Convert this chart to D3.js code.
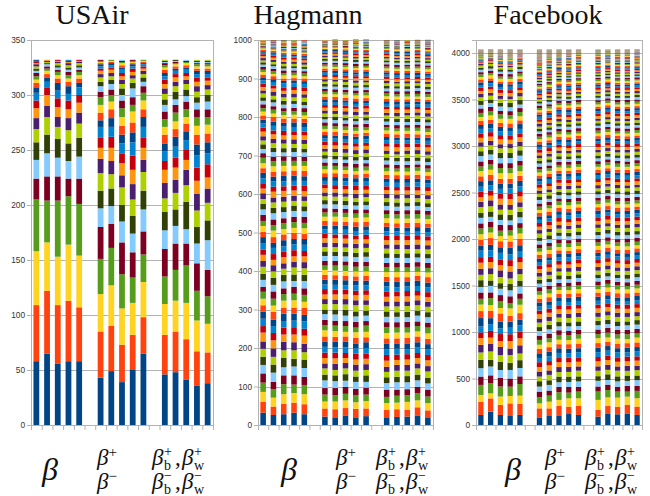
<!DOCTYPE html>
<html>
<head>
<meta charset="utf-8">
<script src="https://cdn.jsdelivr.net/npm/d3@7"></script>
<style>
  body { margin: 0; background: #fff; }
  svg { display: block; }
</style>
</head>
<body>
<div id="chart"></div>
<script>
// LibreOffice default chart palette, cycled bottom-up through the segments
const palette = ["#004586", "#ff420e", "#ffd320", "#579d1c", "#7e0021", "#83caff",
  "#314004", "#aecf00", "#4b1f6f", "#ff950e", "#c5000b", "#0084d1"];

// 17 slots on the x axis: 5 bars, gap, 5 bars, gap, 5 bars
const slotCount = 17;
const barSlots = [0, 1, 2, 3, 4, 6, 7, 8, 9, 10, 12, 13, 14, 15, 16];

// ---- USAir (332 nodes): community sizes per run, bottom to top
const usairBars = [
  [58,51,49,47,19,17,16,12,10,9,7,7,5,4,3,3,3,2,2,2,2,1,1,1,1],
  [65,57,44,38,22,21,17,16,10,10,7,5,4,3,3,2,2,2,1,1,1,1],
  [56,53,44,51,22,17,17,11,9,9,8,7,7,4,3,3,2,2,2,2,1,1,1],
  [58,55,51,44,16,16,16,12,11,8,8,6,7,4,3,3,3,2,2,2,2,1,1,1],
  [58,49,47,47,23,20,17,13,10,9,7,7,4,4,3,3,2,2,2,2,1,1,1],
  [43,42,34,32,29,17,16,16,13,10,9,10,6,7,7,7,5,5,4,4,3,3,2,2,2,1,1,1,1],
  [49,41,37,34,22,16,16,13,12,12,10,9,8,8,7,6,5,5,4,3,3,3,2,2,2,1,1,1],
  [39,34,33,31,29,19,15,16,11,11,9,9,8,8,8,8,7,5,6,4,4,3,3,3,2,2,2,1,1,1],
  [50,32,29,23,23,17,16,15,14,13,13,12,9,9,10,6,7,8,5,4,3,3,3,2,2,1,1,1,1],
  [65,33,32,25,21,20,17,17,11,11,9,10,9,7,8,7,6,4,4,3,3,2,2,2,1,1,1,1],
  [46,36,28,25,25,17,17,12,14,12,8,9,7,8,7,7,7,6,5,5,5,4,4,3,3,3,2,2,2,1,1,1],
  [48,37,28,28,24,16,15,15,12,11,9,10,9,7,7,8,7,5,7,5,4,4,3,3,2,2,2,1,1,1,1],
  [41,37,33,34,20,13,25,15,14,9,9,9,8,7,6,7,7,5,6,5,4,3,3,3,2,2,2,1,1,1],
  [36,31,28,27,25,18,15,15,15,12,12,11,10,9,8,8,7,6,5,5,5,4,4,3,3,2,2,2,1,1,1,1],
  [38,28,26,25,24,27,18,16,13,10,12,10,10,8,8,7,7,7,6,5,4,4,3,3,3,2,2,2,1,1,1,1]
];

// ---- Hagmann (1000 nodes)
const hagmannBars = [
  [32,28,26,24,24,22,21,21,19,23,17,19,18,17,17,18,13,18,16,18,15,16,14,15,17,14,15,13,16,14,14,13,15,12,14,13,14,12,13,14,12,11,12,10,11,12,10,11,10,11,10,9,10,9,9,10,8,9,9,8,8,7,7,6,7,6,6,5,6,5,5,4,4,4,3,3,3,3,2,2,2,2,1,1,1,1,1],
  [26,22,23,22,19,24,21,20,22,21,19,18,17,20,16,18,19,17,18,17,16,14,15,16,13,15,17,14,15,16,14,14,13,15,13,14,12,13,14,13,12,12,11,12,11,12,10,12,11,12,9,10,9,10,8,9,10,9,8,9,7,8,6,7,6,7,5,6,6,5,5,5,4,4,3,3,3,3,2,2,2,2,2,1,1,1,1,1,1],
  [28,27,25,26,23,21,24,20,22,19,18,17,19,16,18,17,15,18,17,16,14,16,15,13,16,15,14,15,13,16,13,14,13,15,12,13,14,12,14,13,12,10,11,12,11,10,12,11,10,11,9,10,8,9,10,9,9,8,9,10,7,6,8,6,7,5,6,6,5,6,5,5,4,4,3,3,3,3,3,2,2,2,2,1,1,1,1,1,1,1,1,1,1],
  [32,26,25,22,24,23,20,22,21,20,19,17,18,16,19,17,18,15,17,18,15,14,16,15,14,16,13,15,14,15,14,12,13,14,13,12,14,13,12,13,11,12,11,10,12,11,10,11,12,10,10,9,9,10,8,9,10,9,8,9,8,6,7,7,6,6,5,6,5,6,5,4,4,4,4,3,3,3,3,2,2,2,2,2,1,1,1,1,1,1,1,1],
  [28,26,26,24,21,23,22,19,22,21,18,19,17,18,16,18,17,19,16,17,16,15,14,16,15,13,15,14,16,14,13,14,12,13,14,13,12,14,13,12,12,11,10,12,11,11,10,12,11,10,9,9,10,8,9,10,9,8,10,9,7,7,6,7,6,6,5,6,6,5,5,4,4,4,3,3,3,3,3,2,2,2,2,2,1,1,1,1,1,1,1,1,1,1,1],
  [22,21,18,18,17,20,15,16,13,14,14,15,13,14,16,13,14,15,12,14,13,12,14,12,13,12,13,11,12,13,12,11,12,11,12,11,10,12,11,11,11,10,11,10,10,11,10,9,10,10,10,9,9,10,9,9,8,9,9,8,9,8,8,8,9,8,7,8,8,7,7,7,8,7,6,7,7,6,7,6,6,6,5,6,5,6,5,5,5,5,5,4,4,4,4,4,3,3,3,3,3,2,2,2,2,1,1,1,1,1,1],
  [20,21,20,16,19,18,15,14,16,14,15,14,14,13,15,14,13,16,13,14,12,13,13,12,14,11,12,13,12,13,11,12,11,12,10,12,11,11,12,11,10,11,10,10,11,9,10,11,10,10,9,10,8,9,9,10,9,8,9,9,8,9,8,7,8,8,9,7,8,8,7,6,7,8,7,6,7,7,6,7,5,6,6,5,6,5,5,6,5,5,5,5,4,4,4,3,3,3,3,3,2,2,2,2,2,1,1,1,1,1,1,1,1,1],
  [25,19,20,17,18,16,17,15,14,13,13,15,14,14,12,15,13,14,15,14,14,12,13,11,13,12,12,14,11,13,12,11,11,12,11,12,10,11,12,11,10,10,11,11,9,10,10,11,10,10,9,9,10,8,9,9,10,9,8,9,8,8,7,9,8,8,7,8,9,8,7,7,6,7,8,6,7,6,7,7,6,5,5,6,6,5,5,6,5,5,4,5,4,4,4,3,4,3,3,3,3,2,2,2,2,1,1,1,1,1,1,1],
  [20,22,17,19,16,18,14,15,16,13,15,14,13,15,14,12,15,14,13,16,13,13,12,14,12,11,13,12,13,12,11,12,12,11,10,12,11,12,11,11,11,10,10,9,11,10,11,10,10,10,8,9,10,9,9,8,10,9,9,9,8,7,8,9,8,8,7,9,8,8,6,7,7,7,8,6,7,7,6,7,6,5,6,5,5,6,5,5,6,5,5,4,4,4,4,4,3,3,3,3,3,3,2,2,2,2,1,1,1,1,1,1,1],
  [23,20,19,17,18,15,17,14,15,14,14,14,15,13,14,16,12,14,13,15,12,14,12,13,12,13,11,13,12,13,12,11,12,10,12,11,11,12,11,11,10,11,10,11,10,9,10,11,10,10,9,10,9,8,9,9,10,9,8,9,9,8,7,8,8,9,8,7,8,8,7,7,6,7,7,8,6,7,6,7,5,6,5,6,5,5,6,5,6,5,5,4,4,4,4,3,3,3,3,3,3,2,2,2,2,1,1,1,1,1,1,1,1,1,1,1],
  [20,19,18,16,19,17,15,14,13,16,15,14,16,13,14,15,13,14,14,13,13,12,13,14,12,13,12,13,11,13,12,12,11,11,12,11,12,10,12,11,10,11,10,10,11,10,10,11,9,10,9,9,9,10,8,9,9,10,9,8,8,8,9,8,7,8,8,8,7,9,7,7,7,6,7,7,6,7,7,7,6,5,6,5,6,5,5,5,6,5,5,5,4,4,4,4,3,3,3,3,3,2,2,2,2,2,1,1,1,1,1,1,1],
  [21,20,17,18,16,19,14,16,15,13,14,15,14,13,15,13,14,14,12,15,13,13,12,12,14,12,13,12,13,12,11,12,12,11,11,12,10,11,12,11,10,10,11,10,11,10,9,11,10,10,9,8,10,9,9,9,8,10,9,9,8,8,8,7,9,8,8,7,9,8,7,6,7,7,7,6,8,7,6,7,5,6,5,6,5,6,5,5,5,6,5,4,4,4,4,4,3,3,3,3,3,2,2,2,2,2,1,1,1,1,1,1,1,1,1],
  [22,18,20,17,16,18,16,14,15,14,14,13,15,14,14,13,15,12,14,15,12,13,14,12,13,11,13,12,12,13,12,11,11,12,12,10,11,12,11,11,11,10,10,11,10,10,11,9,10,10,9,10,8,9,9,10,9,9,8,9,8,9,8,8,7,8,8,9,7,8,7,7,6,7,7,7,7,6,7,7,6,5,5,6,5,6,5,6,5,5,5,4,4,4,4,4,4,3,3,3,3,3,2,2,2,2,2,1,1,1,1,1],
  [25,21,18,19,16,17,15,16,13,14,13,14,14,15,13,14,12,15,13,14,13,12,12,13,14,12,11,13,12,12,11,11,12,12,10,11,12,11,11,12,10,11,10,10,9,11,10,11,10,10,10,9,8,9,9,9,10,8,9,9,7,8,9,8,8,7,8,9,8,8,6,7,7,7,6,7,8,7,7,6,5,5,6,5,6,5,6,5,6,5,5,5,4,4,4,4,3,3,3,3,3,2,2,2,2,2,1,1,1,1,1,1,1,1],
  [20,18,19,17,18,16,15,16,14,15,14,15,13,14,14,15,13,14,13,14,13,12,13,13,12,14,12,12,13,12,11,12,11,12,11,11,12,10,12,11,10,10,10,11,10,11,10,10,9,11,9,9,9,8,10,9,9,10,8,9,8,8,7,9,8,8,8,7,9,8,7,7,7,6,7,7,6,7,7,7,5,6,5,5,6,5,6,5,5,6,5,4,4,4,4,4,3,3,3,3,3,3,2,2,2,2,1,1,1,1,1,1,1,1,1,1]
];

// ---- Facebook (4039 nodes)
// the four large communities at the foot of each bar
const fbLow = [
  [108,143,72,108], [143,143,54,108], [108,108,90,108], [97,136,79,100], [108,118,90,125],
  [82,97,54,65], [97,82,72,65], [97,108,65,82], [118,79,90,61], [108,97,82,72],
  [90,72,108,90], [125,79,93,79], [115,82,97,65], [125,90,90,54], [108,90,90,79]
];
// count of single-node communities that close each bar at the top
const fbOnes = [50, 33, 67, 69, 40, 90, 72, 36, 40, 29, 28, 12, 29, 29, 21];

// beta runs (bars 1-5): middle and upper communities, one row per bar
const fbBetaA = [
  [90,90,90,79,82,72,61], [86,95,72,90,80,68,73], [95,82,90,70,88,64,75],
  [88,92,76,85,70,80,73], [82,90,84,72,88,76,72]
];
const fbBetaB = [
  [65,90,75,70,62,68,60,72,58,66,64,60,70,56,62],
  [72,65,80,60,75,62,70,58,68,64,66,56,70,60,72],
  [62,70,90,58,75,64,68,60,66,72,56,62,70,60,65],
  [70,66,62,80,58,72,64,68,60,75,56,66,62,70,69],
  [66,60,72,90,64,58,75,62,70,60,68,56,65,62,70]
];
const fbBetaC = [
  [58,62,55,60,52,64,56,50,58,54,60,52,56,50,54,58,52],
  [60,54,62,52,58,56,64,50,55,58,52,60,54,56,50,58,52],
  [55,58,64,52,60,50,56,62,54,52,58,50,60,56,52,54,58],
  [62,56,58,50,60,54,52,64,56,58,50,54,60,52,56,55,54],
  [56,60,52,62,58,54,50,64,56,52,58,54,50,60,52,55,58]
];
const fbBetaD = [
  [50,46,48,44,52,42,46,40,44,48,38,42,40],
  [46,50,44,48,42,52,40,46,48,44,42,38,40],
  [48,44,52,46,40,50,42,44,48,38,46,40,42],
  [52,44,46,48,40,46,42,50,38,44,42,48,40],
  [44,50,46,42,48,52,40,44,46,42,38,48,40]
];
const fbBetaE = [
  [36,32,34,30,28,32,26,28,24,26,22,24],
  [32,36,30,34,28,26,32,24,28,22,26,24],
  [34,30,36,28,32,26,30,24,28,24,26,24],
  [30,34,32,36,26,30,28,24,28,26,24,24],
  [36,30,32,28,34,26,28,30,24,26,24,24]
];
const fbBetaF = [
  [16,14,12,10,9,8,7,6,6,5,5,4,4,3,3,3,2,2,2,2],
  [14,16,10,12,8,9,6,7,5,6,4,5,3,4,3,2,3,2,2,2],
  [16,12,14,9,10,7,8,6,5,6,4,5,3,4,3,2,3,2,2,2]
];
const fbBetaFPick = [0, 1, 0, 2, 0];

// split runs (bars 6-15): blocks of communities, variants picked per bar
const fbSplitB = [
  [61,54,58,50,54,48,52,46,50,48,44,52,46,50,42,48],
  [54,61,50,58,48,54,46,52,48,50,52,44,50,46,48,42],
  [58,50,61,48,54,52,46,54,50,44,48,52,50,42,46,48],
  [52,58,54,61,46,50,48,54,44,50,52,46,48,42,50,48]
];
const fbSplitC = [
  [44,46,40,42,45,38,44,40,42,38,40,36,42,38,40,36,38,40,34,38],
  [46,42,44,40,38,45,40,44,38,42,36,40,38,42,36,40,34,38,40,38],
  [42,45,46,38,40,44,42,36,40,38,44,40,36,38,42,34,40,38,36,42],
  [46,44,42,40,45,44,38,42,40,36,38,42,40,38,36,40,38,34,40,38]
];
const fbSplitC3 = [
  [40,38,36,42,38,36,40,34,38,36,32],
  [38,40,42,36,34,38,40,36,32,38,36],
  [36,40,38,42,34,38,36,40,32,38,36],
  [42,36,40,38,38,34,40,36,36,38,32]
];
const fbSplitD = [
  [36,34,38,32,35,34,30,36,32,34,30,32,34,30,32,28,31,30,28,32],
  [34,36,32,38,34,30,35,32,36,30,34,32,28,30,32,34,30,28,31,32],
  [38,32,36,34,30,35,34,32,36,30,32,34,28,32,30,31,34,28,30,32],
  [34,38,32,36,34,30,35,32,34,36,30,32,30,34,28,32,30,31,28,32]
];
const fbSplitE = [
  [30,28,29,26,28,30,26,27,25,28,24,26,27,24,25,22,24,26,22,23],
  [28,30,26,29,30,28,25,27,26,24,28,27,24,26,22,25,24,22,26,23],
  [26,30,28,29,28,26,30,27,24,25,28,26,24,27,22,25,26,24,22,23]
];
const fbSplitF = [
  [22,20,21,19,20,18,19,17,18,16,17,15,16,14,15,13,14,12,13,12],
  [20,22,19,21,18,20,17,19,16,18,15,17,14,16,13,15,12,14,12,13],
  [21,22,19,20,20,17,18,19,16,17,18,14,15,16,13,15,12,14,13,12]
];
const fbSplitG = [
  [11,10,10,9,9,8,8,7,7,6,6,5,5,5,4,4,4,3,3,3,3,2,2,2,2],
  [10,11,9,10,8,9,7,8,6,7,5,6,5,4,5,4,3,4,3,3,2,3,2,2,2]
];
const fbSplitPick = [
  [0,0,0,0,0,0,0], [1,1,1,1,1,1,0], [2,2,0,2,0,0,1], [0,3,2,0,2,0,0], [3,0,3,3,0,2,0],
  [1,3,0,2,1,0,1], [2,0,1,3,2,1,0], [3,1,2,0,0,2,0], [0,2,3,1,2,0,1], [1,0,0,3,1,1,0]
];

const facebookBars = fbLow.map((low, i) => {
  let upper;
  if (i < 5) {
    upper = [...fbBetaA[i], ...fbBetaB[i], ...fbBetaC[i], ...fbBetaD[i], ...fbBetaE[i],
      ...fbBetaF[fbBetaFPick[i]]];
  } else {
    const p = fbSplitPick[i - 5];
    upper = [...fbSplitB[p[0]], ...fbSplitC[p[1]], ...fbSplitC3[p[2]], ...fbSplitD[p[3]],
      ...fbSplitE[p[4]], ...fbSplitF[p[5]], ...fbSplitG[p[6]]];
  }
  return [...low, ...upper, ...new Array(fbOnes[i]).fill(1)];
});

const panels = [
  { title: "USAir", bars: usairBars, yMax: 350, tickMax: 350, step: 50,
    left: 31, right: 213, titleX: 92, labelX: [50, 97, 152] },
  { title: "Hagmann", bars: hagmannBars, yMax: 1000, tickMax: 1000, step: 100,
    left: 258, right: 433, titleX: 308, labelX: [289, 336, 376] },
  { title: "Facebook", bars: facebookBars, yMax: 4140, tickMax: 4000, step: 500,
    left: 476, right: 642, titleX: 548, labelX: [513, 545, 585] }
];

const width = 650;
const height = 496;
const plotTop = 40;
const plotBottom = 425;
const gridColor = "#b3b3b3";
const mathFont = "'Liberation Serif', 'DejaVu Serif', serif";

const svg = d3.select("#chart")
  .append("svg")
  .attr("width", width)
  .attr("height", height)
  .attr("viewBox", `0 0 ${width} ${height}`);

panels.forEach((p) => {
  const x = d3.scaleBand(d3.range(slotCount), [p.left, p.right]);
  const slotEdge = d3.scaleLinear([0, slotCount], [p.left, p.right]);
  const y = d3.scaleLinear([0, p.yMax], [plotBottom, plotTop]);
  const ticks = d3.range(0, p.tickMax + 1, p.step);
  const barW = x.bandwidth() * 0.54;

  const g = svg.append("g");

  // gridlines + frame
  g.append("g")
    .selectAll("line")
    .data(ticks)
    .join("line")
    .attr("x1", p.left)
    .attr("x2", p.right)
    .attr("y1", (d) => Math.round(y(d)) + 0.5)
    .attr("y2", (d) => Math.round(y(d)) + 0.5)
    .attr("stroke", gridColor);
  g.append("rect")
    .attr("x", p.left + 0.5)
    .attr("y", plotTop + 0.5)
    .attr("width", p.right - p.left)
    .attr("height", plotBottom - plotTop)
    .attr("fill", "none")
    .attr("stroke", gridColor);

  // stacked community segments
  p.bars.forEach((sizes, i) => {
    const tops = d3.cumsum(sizes);
    const segs = sizes.map((s, j) => ({ y0: tops[j] - s, y1: tops[j], c: palette[j % palette.length] }));
    g.append("g")
      .selectAll("rect")
      .data(segs)
      .join("rect")
      .attr("x", x(barSlots[i]) + (x.bandwidth() - barW) / 2)
      .attr("width", barW)
      .attr("y", (d) => y(d.y1))
      .attr("height", (d) => y(d.y0) - y(d.y1))
      .attr("fill", (d) => d.c);
  });

  // axes
  const leftAxis = d3.axisLeft(y)
    .tickValues(ticks)
    .tickSize(4)
    .tickPadding(2)
    .tickFormat(d3.format("d"));
  g.append("g")
    .attr("transform", `translate(${p.left},0)`)
    .call(leftAxis)
    .call((a) => a.select(".domain").attr("stroke", gridColor))
    .call((a) => a.selectAll(".tick line").attr("stroke", gridColor))
    .call((a) => a.selectAll("text")
      .attr("fill", "#333")
      .style("font-family", "'Liberation Sans', Arial, sans-serif")
      .style("font-size", "8.3px"));

  const bottomAxis = d3.axisBottom(slotEdge)
    .tickValues(d3.range(slotCount + 1))
    .tickSize(5)
    .tickSizeOuter(0)
    .tickFormat(() => "");
  g.append("g")
    .attr("transform", `translate(0,${plotBottom})`)
    .call(bottomAxis)
    .call((a) => a.select(".domain").attr("stroke", gridColor))
    .call((a) => a.selectAll(".tick line").attr("stroke", gridColor));

  // panel title
  g.append("text")
    .attr("x", p.titleX)
    .attr("y", 24)
    .attr("text-anchor", "middle")
    .style("font-family", "'Liberation Serif', serif")
    .style("font-size", "28px")
    .attr("fill", "#111")
    .text(p.title);

  // x labels: β | β+ β− | β_b^+,β_w^+ / β_b^-,β_w^-
  const lab = g.append("g")
    .style("font-family", mathFont)
    .attr("fill", "#111");

  lab.append("text")
    .attr("x", p.labelX[0])
    .attr("y", 480)
    .attr("text-anchor", "middle")
    .style("font-size", "32px")
    .style("font-style", "italic")
    .text("β");

  const rows = [{ sign: "+", base: 465 }, { sign: "−", base: 489 }];
  rows.forEach((r) => {
    const t = lab.append("text").attr("x", p.labelX[1]).attr("y", r.base);
    t.append("tspan").style("font-size", "23px").style("font-style", "italic").text("β");
    t.append("tspan").attr("dy", -8).style("font-size", "15px").text(r.sign);

    const bx = p.labelX[2];
    const subs = [{ dx: 0, s: "b" }, { dx: 30, s: "w" }];
    subs.forEach((sb, k) => {
      lab.append("text").attr("x", bx + sb.dx).attr("y", r.base)
        .style("font-size", "23px").style("font-style", "italic").text("β");
      lab.append("text").attr("x", bx + sb.dx + 12).attr("y", r.base - 9)
        .style("font-size", "14px").text(r.sign);
      lab.append("text").attr("x", bx + sb.dx + 12).attr("y", r.base + 5)
        .style("font-size", "14px").text(sb.s);
      if (k === 0) {
        lab.append("text").attr("x", bx + 23).attr("y", r.base)
          .style("font-size", "23px").text(",");
      }
    });
  });
});
</script>
</body>
</html>
